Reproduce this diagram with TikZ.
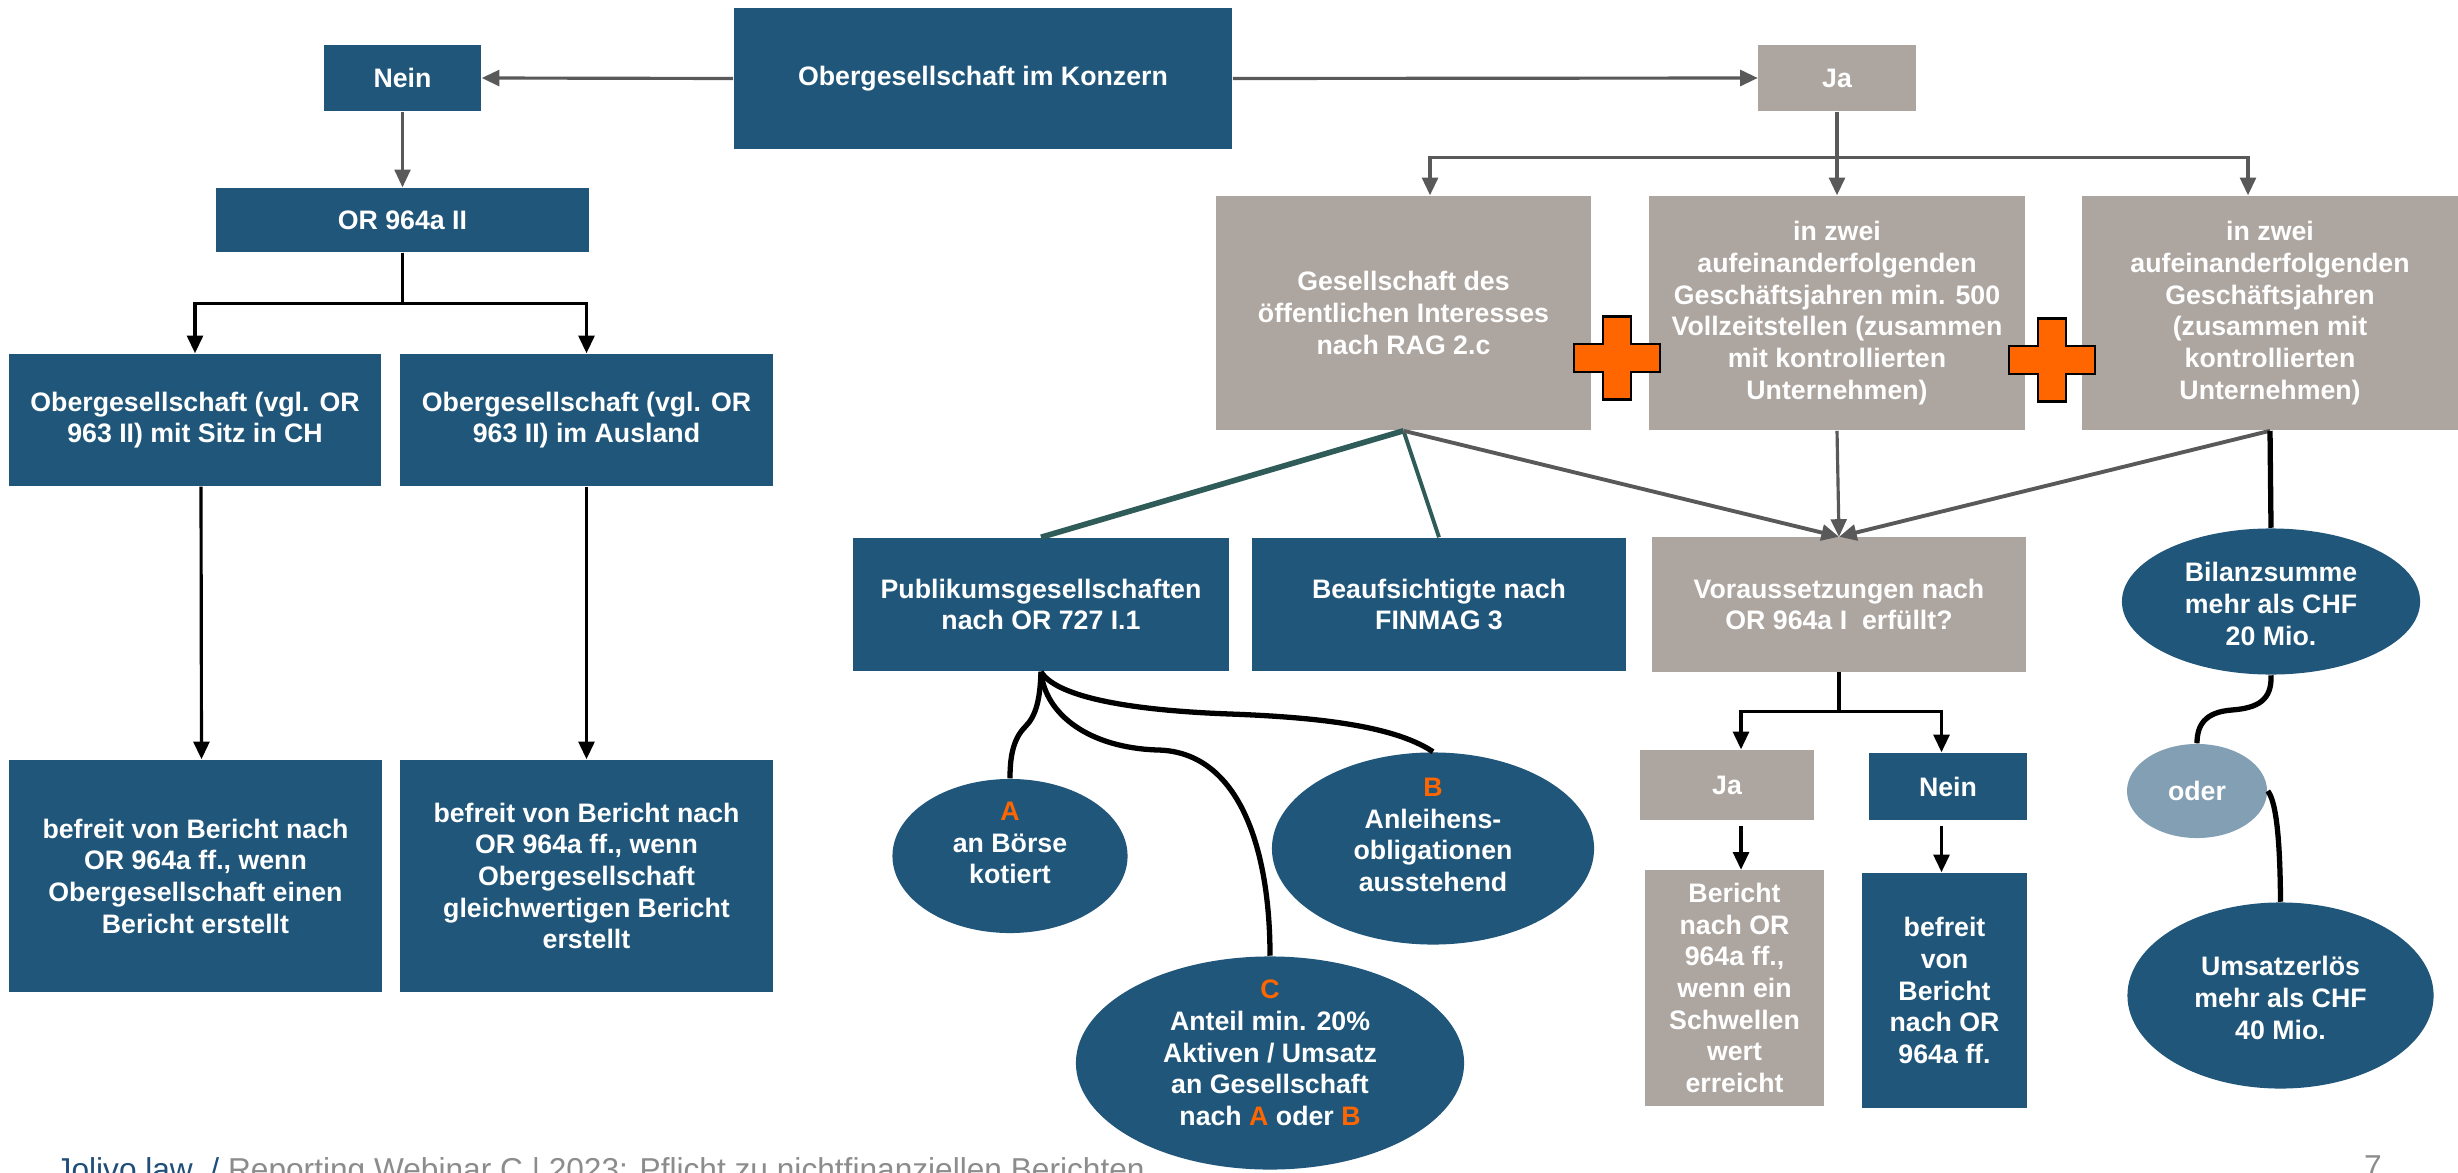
\documentclass[tikz,border=0pt]{standalone}
\usepackage{fontspec}
\setmainfont{Liberation Sans}
\usetikzlibrary{shapes.geometric, arrows.meta}
\definecolor{dblue}{HTML}{1F567A}
\definecolor{bgray}{HTML}{ADA59F}
\definecolor{tealc}{HTML}{2F5C59}
\definecolor{lgray}{HTML}{595959}
\definecolor{oderc}{HTML}{829FB4}
\definecolor{orng}{HTML}{FF6600}
\definecolor{footgray}{HTML}{8C8C8C}
\definecolor{footblue}{HTML}{1F4E79}
\newcommand\bxfont{\bfseries\fontsize{7.6}{9}\selectfont}
\begin{document}
\begin{tikzpicture}[x=0.01cm, y=-0.01cm,
 box/.style={rectangle, inner sep=0pt, align=center, text=white, font=\bxfont},
 bluebox/.style={box, fill=dblue},
 graybox/.style={box, fill=bgray},
 ellshape/.style={ellipse, inner sep=0pt, fill=dblue},
 elltext/.style={inner sep=0pt, align=center, text=white, font=\bxfont},
 garrow/.style={draw=lgray, line width=0.9pt, -{Triangle[length=5pt,width=4.5pt]}},
 barrow/.style={draw=black, line width=0.9pt, -{Triangle[length=5pt,width=4.5pt]}},
 curve/.style={draw=black, line width=1.5pt},
 plussign/.style={fill=orng, draw=black, line width=0.8pt, line join=miter},
]
\fill[white] (0,0) rectangle (2458,1173);
\useasboundingbox (0,0) rectangle (2458,1173);

% top row
\node[bluebox, minimum width=4.98cm, minimum height=1.41cm] (konz) at (983,78.5) {Obergesellschaft im Konzern};
\node[bluebox, minimum width=1.57cm, minimum height=0.66cm] (nein1) at (402.5,78) {Nein};
\node[graybox, minimum width=1.57cm, minimum height=0.66cm] (ja1) at (1837,78) {Ja};

% left branch
\node[bluebox, minimum width=3.73cm, minimum height=0.64cm] (or2) at (402.5,220) {OR 964a II};
\node[bluebox, minimum width=3.72cm, minimum height=1.32cm] (ch) at (195,420) {Obergesellschaft (vgl. OR\\963 II) mit Sitz in CH};
\node[bluebox, minimum width=3.73cm, minimum height=1.32cm] (ausl) at (586.5,420) {Obergesellschaft (vgl. OR\\963 II) im Ausland};
\node[bluebox, minimum width=3.73cm, minimum height=2.32cm] (bef1) at (195.5,876) {befreit von Bericht nach\\OR 964a ff., wenn\\Obergesellschaft einen\\Bericht erstellt};
\node[bluebox, minimum width=3.73cm, minimum height=2.32cm] (bef2) at (586.5,876) {befreit von Bericht nach\\OR 964a ff., wenn\\Obergesellschaft\\gleichwertigen Bericht\\erstellt};

% right branch, criteria
\node[graybox, minimum width=3.75cm, minimum height=2.34cm] (ges) at (1403.5,313) {Gesellschaft des\\öffentlichen Interesses\\nach RAG 2.c};
\node[graybox, minimum width=3.76cm, minimum height=2.34cm] (zwei1) at (1837,313) {in zwei\\aufeinanderfolgenden\\Geschäftsjahren min. 500\\Vollzeitstellen (zusammen\\mit kontrollierten\\Unternehmen)};
\node[graybox, minimum width=3.76cm, minimum height=2.34cm] (zwei2) at (2270,313) {in zwei\\aufeinanderfolgenden\\Geschäftsjahren\\(zusammen mit\\kontrollierten\\Unternehmen)};

% third row
\node[bluebox, minimum width=3.76cm, minimum height=1.33cm] (pub) at (1041,604.5) {Publikumsgesellschaften\\nach OR 727 I.1};
\node[bluebox, minimum width=3.74cm, minimum height=1.33cm] (beauf) at (1439,604.5) {Beaufsichtigte nach\\FINMAG 3};
\node[graybox, minimum width=3.74cm, minimum height=1.34cm] (vor) at (1839,604.5) {Voraussetzungen nach\\OR 964a I~ erfüllt?};

\node[graybox, minimum width=1.73cm, minimum height=0.70cm] (ja2) at (1727,785) {Ja};
\node[bluebox, minimum width=1.57cm, minimum height=0.67cm] (nein2) at (1948,786.5) {Nein};
\node[graybox, minimum width=1.79cm, minimum height=2.35cm] (bericht) at (1734.5,988) {Bericht\\nach OR\\964a ff.,\\wenn ein\\Schwellen\\wert\\erreicht};
\node[bluebox, minimum width=1.65cm, minimum height=2.35cm] (befr3) at (1944.5,990.5) {befreit\\von\\Bericht\\nach OR\\964a ff.};

% ellipses A B C
\node[ellshape, minimum width=2.35cm, minimum height=1.54cm] (ea) at (1010,856) {};
\node[elltext] (eat) at (1010,843) {\textcolor{orng}{A}\\an Börse\\kotiert};
\node[ellshape, minimum width=3.22cm, minimum height=1.92cm] (eb) at (1433,848.5) {};
\node[elltext] (ebt) at (1433,835) {\textcolor{orng}{B}\\Anleihens-\\obligationen\\ausstehend};
\node[ellshape, minimum width=3.88cm, minimum height=2.13cm] (ec) at (1270,1063) {};
\node[elltext] (ect) at (1270,1053) {\textcolor{orng}{C}\\Anteil min. 20\%\\Aktiven / Umsatz\\an Gesellschaft\\nach \textcolor{orng}{A} oder \textcolor{orng}{B}};

% right ellipses
\node[ellshape, minimum width=2.98cm, minimum height=1.46cm] (ebil) at (2271,601.5) {};
\node[elltext] (ebilt) at (2271,604) {Bilanzsumme\\mehr als CHF\\20 Mio.};
\node[ellshape, fill=oderc, minimum width=1.40cm, minimum height=0.94cm] (eoder) at (2197,791) {};
\node[elltext] (eodert) at (2197,791) {oder};
\node[ellshape, minimum width=3.06cm, minimum height=1.86cm] (eums) at (2280.5,995.5) {};
\node[elltext] (eumst) at (2280.5,998) {Umsatzerlös\\mehr als CHF\\40 Mio.};

% connectors top
\draw[garrow] (konz.west) -- (nein1.east);
\draw[garrow] (konz.east) -- (ja1.west);
\draw[garrow, line width=0.7pt] (nein1.south) -- (or2.north);
\draw[barrow] (or2.south) -- ++(0,51) -| (ch.north);
\draw[barrow] (or2.south) -- ++(0,51) -| (ausl.north);
\draw[barrow] ([xshift=0.06cm]ch.south) -- ([xshift=0.06cm]bef1.north);
\draw[barrow] (ausl.south) -- (bef2.north);

\draw[garrow] (ja1.south) -- ++(0,46) -| ([xshift=0.265cm]ges.north);
\draw[garrow] (ja1.south) -- ++(0,46) -| ([xshift=-0.22cm]zwei2.north);
\draw[garrow] (ja1.south) -- (ja1.south |- zwei1.north);

\draw[draw=tealc, line width=1.6pt] (ges.south) -- (pub.north);
\draw[draw=tealc, line width=1.1pt] (ges.south) -- (beauf.north);
\draw[garrow, line width=1.1pt] (ges.south) -- (vor.north);
\draw[garrow] (zwei1.south) -- (vor.north);
\draw[garrow, line width=1.1pt] (zwei2.south) -- (vor.north);

% vor tree
\draw[barrow] (vor.south) -- ++(0,39) -| ([xshift=0.14cm]ja2.north);
\draw[barrow] (vor.south) -- ++(0,39) -| ([xshift=-0.065cm]nein2.north);
\draw[barrow, shorten <=0.05cm] ([xshift=0.14cm]ja2.south) -- ([xshift=0.14cm]ja2.south |- bericht.north);
\draw[barrow, shorten <=0.05cm] ([xshift=-0.065cm]nein2.south) -- ([xshift=-0.065cm]nein2.south |- befr3.north);

% black curves right
\draw[curve] (zwei2.south) -- (ebil.north);
\draw[curve] (ebil.south) .. controls (2272,700) and (2258,708) .. (2232,710) .. controls (2205,712) and (2197,725) .. (eoder.north);
\draw[curve] (eoder.east) .. controls (2275,800) and (2280,830) .. (eums.north);

% curves A B C
\draw[curve] (pub.south) .. controls (1040,700) and (1036,716) .. (1025,727) .. controls (1012,740) and (1010,760) .. (ea.north);
\draw[curve] (pub.south) .. controls (1055,695) and (1120,710) .. (1230,714) .. controls (1340,718) and (1400,730) .. (eb.north);
\draw[curve] (pub.south) .. controls (1045,715) and (1090,748) .. (1158,750) .. controls (1240,752) and (1270,850) .. (ec.north);

% plus signs
\draw[plussign] (1603,316.5) -- ++(28,0) -- ++(0,27.5) -- ++(29,0) -- ++(0,28) -- ++(-29,0) -- ++(0,27.5) -- ++(-28,0) -- ++(0,-27.5) -- ++(-29,0) -- ++(0,-28) -- ++(29,0) -- cycle;
\draw[plussign] (2038,318.5) -- ++(28,0) -- ++(0,27.5) -- ++(29,0) -- ++(0,28) -- ++(-29,0) -- ++(0,27.5) -- ++(-28,0) -- ++(0,-27.5) -- ++(-29,0) -- ++(0,-28) -- ++(29,0) -- cycle;

% footer
\node[anchor=base west, inner sep=0pt, font=\fontsize{9}{10}\selectfont] (foot) at (55,1180) {\textcolor{footblue}{Jolivo law\ \ /} \textcolor{footgray}{Reporting Webinar C | 2023: Pflicht zu nichtfinanziellen Berichten}};
\node[anchor=base, inner sep=0pt, font=\fontsize{9}{10}\selectfont, text=footgray] (pnum) at (2373,1177) {7};
\end{tikzpicture}
\end{document}
